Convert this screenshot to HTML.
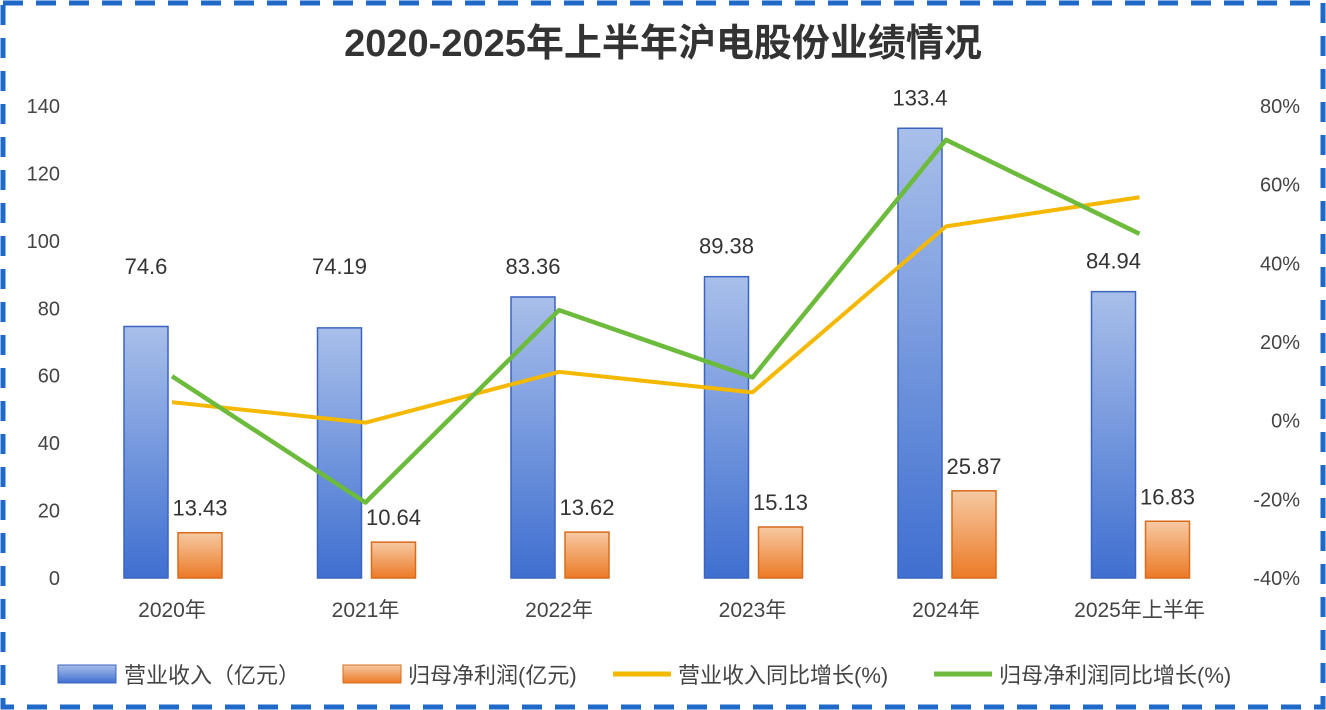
<!DOCTYPE html>
<html><head><meta charset="utf-8"><style>
body{margin:0;background:#fff}
svg{display:block;font-family:"Liberation Sans","Noto Sans CJK SC",sans-serif}
</style></head><body>
<svg width="1326" height="710" viewBox="0 0 1326 710" id="chart">
<defs>
<linearGradient id="gb" x1="0" y1="0" x2="0" y2="1"><stop offset="0" stop-color="#a9bfea"/><stop offset="1" stop-color="#3f6fd0"/></linearGradient>
<linearGradient id="go" x1="0" y1="0" x2="0" y2="1"><stop offset="0" stop-color="#f6c9a2"/><stop offset="1" stop-color="#ec7a26"/></linearGradient>
</defs>
<rect x="3" y="3" width="1320" height="704" fill="none" stroke="#1f6ac8" stroke-width="5" stroke-dasharray="20 13"/>
<text x="663" y="56" text-anchor="middle" font-size="38" font-weight="bold" fill="#333">2020-2025年上半年沪电股份业绩情况</text>
<g id="plot"></g>
<g id="legend" font-size="22" fill="#444">
<rect x="58" y="665" width="58" height="18" fill="url(#gb)" stroke="#3a64bf"/>
<text x="124" y="683">营业收入（亿元）</text>
<rect x="343" y="665" width="58" height="18" fill="url(#go)" stroke="#d96b1c"/>
<text x="408" y="683">归母净利润(亿元)</text>
<line x1="613" y1="674" x2="671" y2="674" stroke="#f5b800" stroke-width="5"/>
<text x="678" y="683">营业收入同比增长(%)</text>
<line x1="934" y1="674" x2="992" y2="674" stroke="#6cbb3c" stroke-width="5"/>
<text x="999" y="683">归母净利润同比增长(%)</text>
</g>
</svg>
<script>
const categories=["2020年","2021年","2022年","2023年","2024年","2025年上半年"];
const revenue=[74.6,74.19,83.36,89.38,133.4,84.94];
const profit=[13.43,10.64,13.62,15.13,25.87,16.83];
const revenueGrowth=[4.7,-0.5,12.4,7.2,49.4,56.8];
const profitGrowth=[11.3,-20.8,28.1,11,71.4,47.5];
const leftTicks=[0,20,40,60,80,100,120,140];
const rightTicks=[-40,-20,0,20,40,60,80];

const NS="http://www.w3.org/2000/svg";
const g=document.getElementById('plot');
const yL=v=>578-v*(472/140);
const yR=v=>578-(v+40)*(472/120);
const xC=i=>172+i*193.5;
function mk(t,a){const e=document.createElementNS(NS,t);for(const k in a)e.setAttribute(k,a[k]);g.appendChild(e);return e;}
leftTicks.forEach(v=>{const t=mk('text',{x:60,y:yL(v)+7,'text-anchor':'end','font-size':20,fill:'#444'});t.textContent=v;

});
rightTicks.forEach(v=>{const t=mk('text',{x:1300,y:yR(v)+7,'text-anchor':'end','font-size':20,fill:'#444'});t.textContent=v+'%';

});
categories.forEach((c,i)=>{
 const bx=xC(i)-48,ox=xC(i)+6;
 const b=mk('rect',{x:bx,y:yL(revenue[i]),width:44,height:578-yL(revenue[i]),fill:'url(#gb)',stroke:'#3a64bf','stroke-width':1.5});
 
 
 const o=mk('rect',{x:ox,y:yL(profit[i]),width:44,height:578-yL(profit[i]),fill:'url(#go)',stroke:'#d96b1c','stroke-width':1.5});
 
 
 const t1=mk('text',{x:bx+22,y:Math.min(yL(revenue[i])-23,274),'text-anchor':'middle','font-size':22,fill:'#333'});t1.textContent=revenue[i];
 
 
 const t2=mk('text',{x:ox+22,y:yL(profit[i])-17,'text-anchor':'middle','font-size':22,fill:'#333'});t2.textContent=profit[i];
 
 
 const t3=mk('text',{x:xC(i),y:617,'text-anchor':'middle','font-size':21,fill:'#444'});t3.textContent=c;
 
 
});
const l1=mk('polyline',{points:revenueGrowth.map((v,i)=>xC(i)+','+yR(v)).join(' '),fill:'none',stroke:'#f5b800','stroke-width':4,'stroke-linejoin':'round'});


const l2=mk('polyline',{points:profitGrowth.map((v,i)=>xC(i)+','+yR(v)).join(' '),fill:'none',stroke:'#6cbb3c','stroke-width':4.5,'stroke-linejoin':'round'});


</script>
</body></html>
